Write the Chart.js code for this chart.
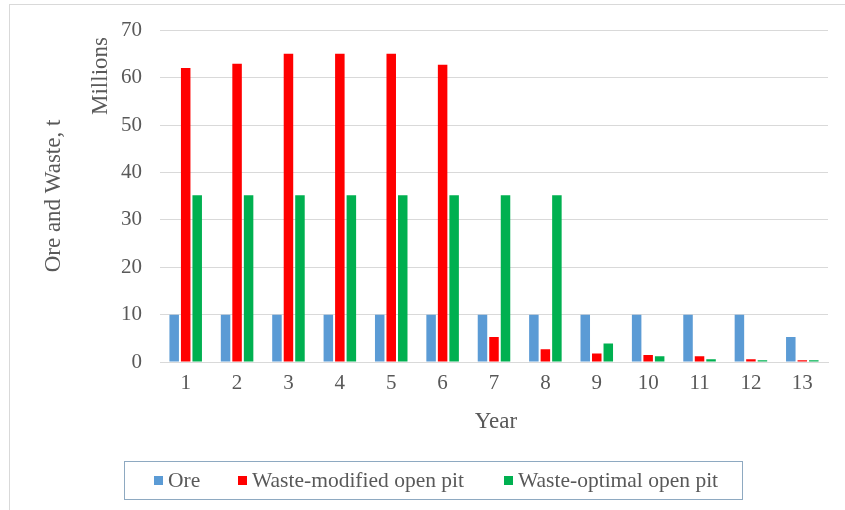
<!DOCTYPE html>
<html>
<head>
<meta charset="utf-8">
<script src="https://cdn.jsdelivr.net/npm/chart.js@4"></script>
<style>
html,body{margin:0;padding:0;background:#fff;}
#wrap{width:845px;height:510px;position:relative;}
</style>
</head>
<body>
<div id="wrap"><canvas id="c" width="845" height="510"></canvas></div>
<script>
const years = ['1','2','3','4','5','6','7','8','9','10','11','12','13'];
const ore = [10,10,10,10,10,10,10,10,10,10,10,10,5.3];
const wasteModified = [62.1,63.0,65.1,65.1,65.1,62.8,5.3,2.7,1.8,1.5,1.2,0.6,0.35];
const wasteOptimal = [35.2,35.2,35.2,35.2,35.2,35.2,35.2,35.2,3.9,1.2,0.6,0.35,0.35];
const seriesNames = ['Ore','Waste-modified open pit','Waste-optimal open pit'];
const yTicks = [0,10,20,30,40,50,60,70];

const FONT = '"Liberation Serif", "DejaVu Serif", serif';
const TXT = '#595959';

const decor = {
  id: 'decor',
  beforeDraw(chart) {
    const ctx = chart.ctx;
    ctx.save();
    ctx.strokeStyle = '#d9d9d9';
    ctx.lineWidth = 1;
    ctx.strokeRect(9.5, 4.5, 900, 600);
    ctx.restore();
  },
  afterDraw(chart) {
    const ctx = chart.ctx;
    ctx.save();
    ctx.fillStyle = TXT;
    ctx.textAlign = 'center';
    ctx.textBaseline = 'middle';
    // axis titles
    ctx.font = '23px ' + FONT;
    ctx.fillText('Year', 496, 422);
    ctx.save();
    ctx.translate(54, 196);
    ctx.rotate(-Math.PI/2);
    ctx.fillText('Ore and Waste, t', 0, 0);
    ctx.restore();
    ctx.save();
    ctx.translate(101, 76);
    ctx.rotate(-Math.PI/2);
    ctx.fillText('Millions', 0, 0);
    ctx.restore();
    // legend
    ctx.strokeStyle = '#8ea9c1';
    ctx.lineWidth = 1;
    ctx.strokeRect(124.5, 461.5, 618, 38);
    ctx.font = '21.5px ' + FONT;
    ctx.textAlign = 'left';
    const xs = [168, 252, 518];
    chart.data.datasets.forEach((ds, i) => {
      ctx.fillStyle = ds.backgroundColor;
      ctx.fillRect(xs[i] - 14, 476, 9, 9);
      ctx.fillStyle = TXT;
      ctx.fillText(ds.label, xs[i], 481);
    });
    ctx.restore();
  }
};

new Chart(document.getElementById('c'), {
  type: 'bar',
  data: {
    labels: years,
    datasets: [
      {label: seriesNames[0], data: ore, backgroundColor: '#5b9bd5'},
      {label: seriesNames[1], data: wasteModified, backgroundColor: '#ff0000'},
      {label: seriesNames[2], data: wasteOptimal, backgroundColor: '#00b050'}
    ]
  },
  options: {
    responsive: false,
    animation: false,
    devicePixelRatio: 1,
    layout: {padding: {left: 0, right: 17, top: 30, bottom: 0}},
    datasets: {bar: {categoryPercentage: 0.672, barPercentage: 0.826}},
    plugins: {legend: {display: false}, tooltip: {enabled: false}},
    scales: {
      x: {
        grid: {display: false, drawTicks: false},
        border: {display: true, color: '#d9d9d9'},
        ticks: {color: TXT, font: {family: FONT, size: 21}, padding: 9},
        afterFit(s) { s.height = 148; }
      },
      y: {
        min: 0, max: 70,
        afterBuildTicks(s) { s.ticks = yTicks.map(v => ({value: v})); },
        grid: {color: '#d9d9d9', drawTicks: false},
        border: {display: false},
        ticks: {color: TXT, font: {family: FONT, size: 21}, padding: 18},
        afterFit(s) { s.width = 160; }
      }
    }
  },
  plugins: [decor]
});
</script>
</body>
</html>
